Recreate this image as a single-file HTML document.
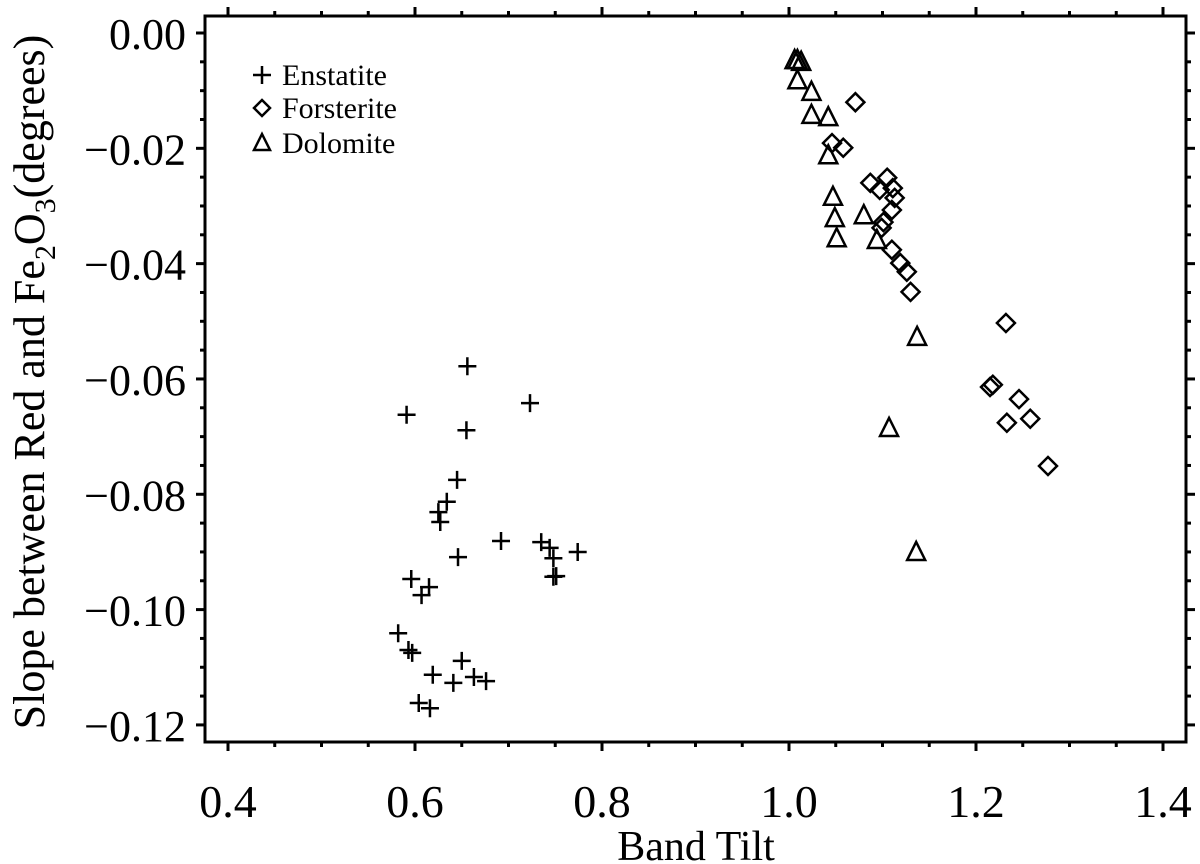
<!DOCTYPE html>
<html><head><meta charset="utf-8"><style>
html,body{margin:0;padding:0;background:#fff;}
svg{display:block;font-family:"Liberation Serif",serif;}
</style></head><body>
<svg id="chart" width="1200" height="864" viewBox="0 0 1200 864" xmlns="http://www.w3.org/2000/svg">
<rect x="0" y="0" width="1200" height="864" fill="#fff"/>
<g id="axes"></g>
<g id="marks"></g>
<g id="legend">
  <g>
    <path d="M253,75 h18 M262,66 v18" stroke="#000" stroke-width="2.5" fill="none"/>
    <text x="282" y="85" font-size="30">Enstatite</text>
  </g>
  <g>
    <path d="M262,100 l8,8 l-8,8 l-8,-8 z" stroke="#000" stroke-width="2.5" fill="none"/>
    <text x="282" y="118" font-size="30">Forsterite</text>
  </g>
  <g>
    <path d="M262,134 l8,16 h-16 z" stroke="#000" stroke-width="2.5" fill="none"/>
    <text x="282" y="153" font-size="30">Dolomite</text>
  </g>
</g>
<text x="696" y="860" font-size="42" text-anchor="middle">Band Tilt</text>
<text transform="translate(44,382) rotate(-90)" font-size="44" text-anchor="middle">Slope between Red and Fe<tspan font-size="30" dy="11">2</tspan><tspan dy="-11">O</tspan><tspan font-size="30" dy="11">3</tspan><tspan dy="-11">(degrees)</tspan></text>
</svg>
<script>
const xTicks = [0.4, 0.6, 0.8, 1.0, 1.2, 1.4];
const xTickLabels = ["0.4", "0.6", "0.8", "1.0", "1.2", "1.4"];
const yTicks = [0, -0.02, -0.04, -0.06, -0.08, -0.10, -0.12];
const yTickLabels = ["0.00", "\u22120.02", "\u22120.04", "\u22120.06", "\u22120.08", "\u22120.10", "\u22120.12"];
const enstatiteX = [0.656,0.723,0.591,0.655,0.645,0.634,0.625,0.627,0.692,0.646,0.735,0.744,0.748,0.774,0.748,0.751,0.596,0.615,0.607,0.582,0.593,0.597,0.650,0.619,0.641,0.663,0.676,0.604,0.616];
const enstatiteY = [-0.0578,-0.0642,-0.0662,-0.0689,-0.0775,-0.0813,-0.0831,-0.0848,-0.0881,-0.0909,-0.0883,-0.0893,-0.0911,-0.0900,-0.0943,-0.0942,-0.0947,-0.0961,-0.0975,-0.1041,-0.1070,-0.1075,-0.1089,-0.1113,-0.1127,-0.1117,-0.1124,-0.1162,-0.1171];
const forsteriteX = [1.071,1.046,1.058,1.087,1.105,1.097,1.111,1.113,1.110,1.101,1.099,1.110,1.119,1.126,1.130,1.232,1.215,1.218,1.246,1.233,1.258,1.277];
const forsteriteY = [-0.0120,-0.0191,-0.0199,-0.0260,-0.0251,-0.0272,-0.0269,-0.0286,-0.0307,-0.0328,-0.0338,-0.0376,-0.0399,-0.0414,-0.0449,-0.0503,-0.0614,-0.0610,-0.0635,-0.0676,-0.0669,-0.0751];
const dolomiteX = [1.006,1.009,1.013,1.009,1.024,1.024,1.042,1.042,1.047,1.049,1.051,1.080,1.094,1.137,1.107,1.136];
const dolomiteY = [-0.0047,-0.0047,-0.0050,-0.0082,-0.0102,-0.0142,-0.0146,-0.0212,-0.0284,-0.0321,-0.0356,-0.0316,-0.0359,-0.0527,-0.0685,-0.0900];

const NS = "http://www.w3.org/2000/svg";
const L = 205, R = 1186, T = 16, B = 742;
function sx(v){ return 228 + (v - 0.4) * 935; }
function sy(v){ return 33 - v * 5766; }
function mk(tag, attrs, parent){
  const e = document.createElementNS(NS, tag);
  for (const k in attrs) e.setAttribute(k, attrs[k]);
  parent.appendChild(e);
  return e;
}
const axes = document.getElementById('axes');
const frame = mk('rect', {x:L, y:T, width:R-L, height:B-T, fill:'none', stroke:'#000', 'stroke-width':3}, axes);


for (let k = 0; k <= 20; k++) {
  const v = 0.4 + k * 0.05;
  const x = sx(v);
  const major = k % 4 === 0;
  const len = major ? 9 : 5;
  const t1 = mk('line', {x1:x, x2:x, y1:B, y2:B+len, stroke:'#000', 'stroke-width':3}, axes);
  
  
  const t2 = mk('line', {x1:x, x2:x, y1:T, y2:T-len, stroke:'#000', 'stroke-width':3}, axes);
  
  
}
xTicks.forEach((v, i) => {
  const t = mk('text', {x:sx(v), y:817, 'font-size':46, 'text-anchor':'middle'}, axes);
  t.textContent = xTickLabels[i];
  
  
});
for (let k = 0; k <= 26; k++) {
  const v = -k * 0.005;
  const y = sy(v);
  if (y > B || y < T) continue;
  const major = k % 4 === 0;
  const len = major ? 9 : 5;
  const t1 = mk('line', {x1:L, x2:L-len, y1:y, y2:y, stroke:'#000', 'stroke-width':3}, axes);
  
  
  const t2 = mk('line', {x1:R, x2:R+len, y1:y, y2:y, stroke:'#000', 'stroke-width':3}, axes);
  
  
}
yTicks.forEach((v, i) => {
  const t = mk('text', {x:186, y:sy(v)+16, 'font-size':44, 'text-anchor':'end'}, axes);
  t.textContent = yTickLabels[i];
  
  
});
const marks = document.getElementById('marks');
enstatiteX.forEach((xv, i) => {
  const x = sx(xv), y = sy(enstatiteY[i]);
  const p = mk('path', {d:`M${x-9},${y} h18 M${x},${y-9} v18`, stroke:'#000', 'stroke-width':2.5, fill:'none'}, marks);
  
  
});
forsteriteX.forEach((xv, i) => {
  const x = sx(xv), y = sy(forsteriteY[i]);
  const p = mk('path', {d:`M${x},${y-9} l9,9 l-9,9 l-9,-9 z`, stroke:'#000', 'stroke-width':2.5, fill:'none'}, marks);
  
  
});
dolomiteX.forEach((xv, i) => {
  const x = sx(xv), y = sy(dolomiteY[i]);
  const p = mk('path', {d:`M${x},${y-10} l9,18 h-18 z`, stroke:'#000', 'stroke-width':2.5, fill:'none'}, marks);
  
  
});
</script>
</body></html>
